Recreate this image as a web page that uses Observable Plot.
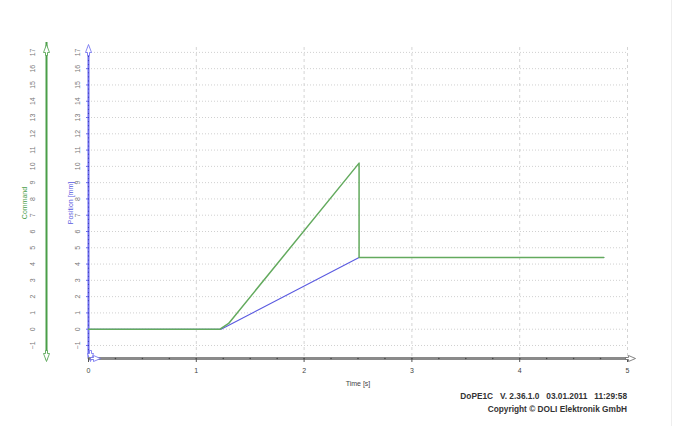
<!DOCTYPE html>
<html>
<head>
<meta charset="utf-8">
<script src="https://cdn.jsdelivr.net/npm/d3@7"></script>
<script src="https://cdn.jsdelivr.net/npm/@observablehq/plot@0.6"></script>
<style>
  body { margin: 0; background: #fff; font-family: "Liberation Sans", Arial, sans-serif; }
  #wrap { position: relative; width: 679px; height: 426px; overflow: hidden; }
  #edge { position: absolute; left: 671px; top: 0; width: 1px; height: 426px; background: #eeeeee; }
  #caption { width: 627px; text-align: right; font-size: 8.3px; font-weight: bold; color: #333; line-height: 13px; margin-top: 0px; }
</style>
</head>
<body>
<div id="wrap">
  <div id="chart"></div>
  <div id="caption">
    <div>DoPE1C&nbsp;&nbsp;&nbsp;V. 2.36.1.0&nbsp;&nbsp;&nbsp;03.01.2011&nbsp;&nbsp;&nbsp;11:29:58</div>
    <div>Copyright © DOLI Elektronik GmbH</div>
  </div>
  <div id="edge"></div>
</div>
<script>
// ---- data ----
const commandTime = [0, 1.22, 1.30, 2.51, 2.51, 4.78];
const commandValue = [0, 0, 0.35, 10.2, 4.4, 4.4];
const positionTime = [0, 1.23, 2.51, 4.78];
const positionValue = [0, 0, 4.4, 4.4];
const xTicks = [0, 1, 2, 3, 4, 5];
const yTicks = d3.range(-1, 18);
const xMinor = d3.range(0, 5.01, 0.25);
const yMinor = d3.range(-1.5, 17.01, 0.25);
const xDomain = [0, 5];
const yDomain = [-1.8, 17.3];

const command = commandTime.map((t, i) => ({t, v: commandValue[i]}));
const position = positionTime.map((t, i) => ({t, v: positionValue[i]}));

const green = "#63aa5e";
const greenAxis = "#4a9e48";
const blue = "#5a5ae0";
const blueAxis = "#6b6bf0";

const arrowUp = { draw(ctx) { ctx.moveTo(0, -7); ctx.lineTo(3, 1); ctx.lineTo(1, 1); ctx.lineTo(1, 4); ctx.lineTo(-1, 4); ctx.lineTo(-1, 1); ctx.lineTo(-3, 1); ctx.closePath(); } };
const arrowDown = { draw(ctx) { ctx.moveTo(0, 7); ctx.lineTo(3, -1); ctx.lineTo(1, -1); ctx.lineTo(1, -4); ctx.lineTo(-1, -4); ctx.lineTo(-1, -1); ctx.lineTo(-3, -1); ctx.closePath(); } };
const arrowRight = { draw(ctx) { ctx.moveTo(6, 0); ctx.lineTo(-1, -3); ctx.lineTo(-1, -1); ctx.lineTo(-4, -1); ctx.lineTo(-4, 1); ctx.lineTo(-1, 1); ctx.lineTo(-1, 3); ctx.closePath(); } };

const chart = Plot.plot({
  width: 679,
  height: 390,
  marginLeft: 88,
  marginRight: 52,
  marginTop: 47,
  marginBottom: 32,
  style: { fontFamily: "Liberation Sans, Arial, sans-serif", fontSize: "7px", color: "#555", background: "transparent" },
  x: { domain: xDomain },
  y: { domain: yDomain },
  marks: [
    Plot.gridY(yTicks, { stroke: "#d0d0d0", strokeOpacity: 1, strokeDasharray: "1,2" }),
    Plot.gridX(xTicks.slice(1), { stroke: "#d4d4d4", strokeOpacity: 1, strokeDasharray: "3,3" }),
    // green "Command" axis
    Plot.ruleX([0], { y1: yDomain[0] - 0.1, y2: yDomain[1] + 0.3, stroke: greenAxis, strokeWidth: 2, dx: -42 }),
    Plot.axisY(yTicks, { anchor: "left", tickRotate: -90, tickSize: 0, tickPadding: 12, dx: -42, fill: "#777", label: "Command", labelAnchor: "center", labelOffset: 66, labelArrow: false }),
    Plot.dot([yDomain[1]], { x: 0, y: d => d, dx: -42, dy: 4, symbol: arrowUp, fill: "#fff", stroke: greenAxis, strokeWidth: 0.8 }),
    Plot.dot([yDomain[0]], { x: 0, y: d => d, dx: -42, dy: -4, symbol: arrowDown, fill: "#fff", stroke: greenAxis, strokeWidth: 0.8 }),
    // blue "Position" axis
    Plot.ruleX([0], { y1: yDomain[0], y2: yDomain[1], stroke: blueAxis, strokeWidth: 2 }),
    Plot.dot(yMinor, { x: 0, y: d => d, r: 0.6, fill: "#3b3bb0" }),
    Plot.axisY(yTicks, { anchor: "left", tickRotate: -90, tickSize: 2, tickPadding: 7, stroke: blueAxis, fill: "#777", label: "Position [mm]", labelAnchor: "center", labelOffset: 20, labelArrow: false }),
    Plot.dot([yDomain[1]], { x: 0, y: d => d, dy: 4, symbol: arrowUp, fill: "#fff", stroke: blueAxis, strokeWidth: 0.8 }),
    Plot.dot([yDomain[0]], { x: 0, y: d => d, dx: 2, dy: -4, symbol: arrowDown, fill: "#fff", stroke: blueAxis, strokeWidth: 0.8 }),
    // x axis
    Plot.ruleY([yDomain[0]], { x1: xDomain[0], x2: xDomain[1], stroke: "#8a8a8a", strokeWidth: 3 }),
    Plot.dot(xMinor, { x: d => d, y: yDomain[0], r: 0.8, fill: "#444" }),
    Plot.axisX(xTicks, { tickSize: 4, tickPadding: 6, stroke: "#555", fill: "#444", label: "Time [s]", labelAnchor: "center", labelOffset: 27, labelArrow: false }),
    Plot.dot([xDomain[1]], { x: d => d, y: yDomain[0], dx: 2, symbol: arrowRight, fill: "#fff", stroke: "#666", strokeWidth: 0.8 }),
    Plot.dot([xDomain[0]], { x: d => d, y: yDomain[0], dx: 6, symbol: arrowRight, fill: "#fff", stroke: blueAxis, strokeWidth: 0.8 }),
    // series
    Plot.line(position, { x: "t", y: "v", stroke: blue, strokeWidth: 1.1 }),
    Plot.line(command, { x: "t", y: "v", stroke: green, strokeWidth: 1.5 })
  ]
});
document.getElementById("chart").appendChild(chart);
// colour the axis titles
chart.querySelectorAll("text").forEach(el => {
  const s = el.textContent.trim();
  if (s === "Command") el.setAttribute("fill", greenAxis);
  if (s === "Position [mm]") el.setAttribute("fill", blue);
});
</script>
</body>
</html>
